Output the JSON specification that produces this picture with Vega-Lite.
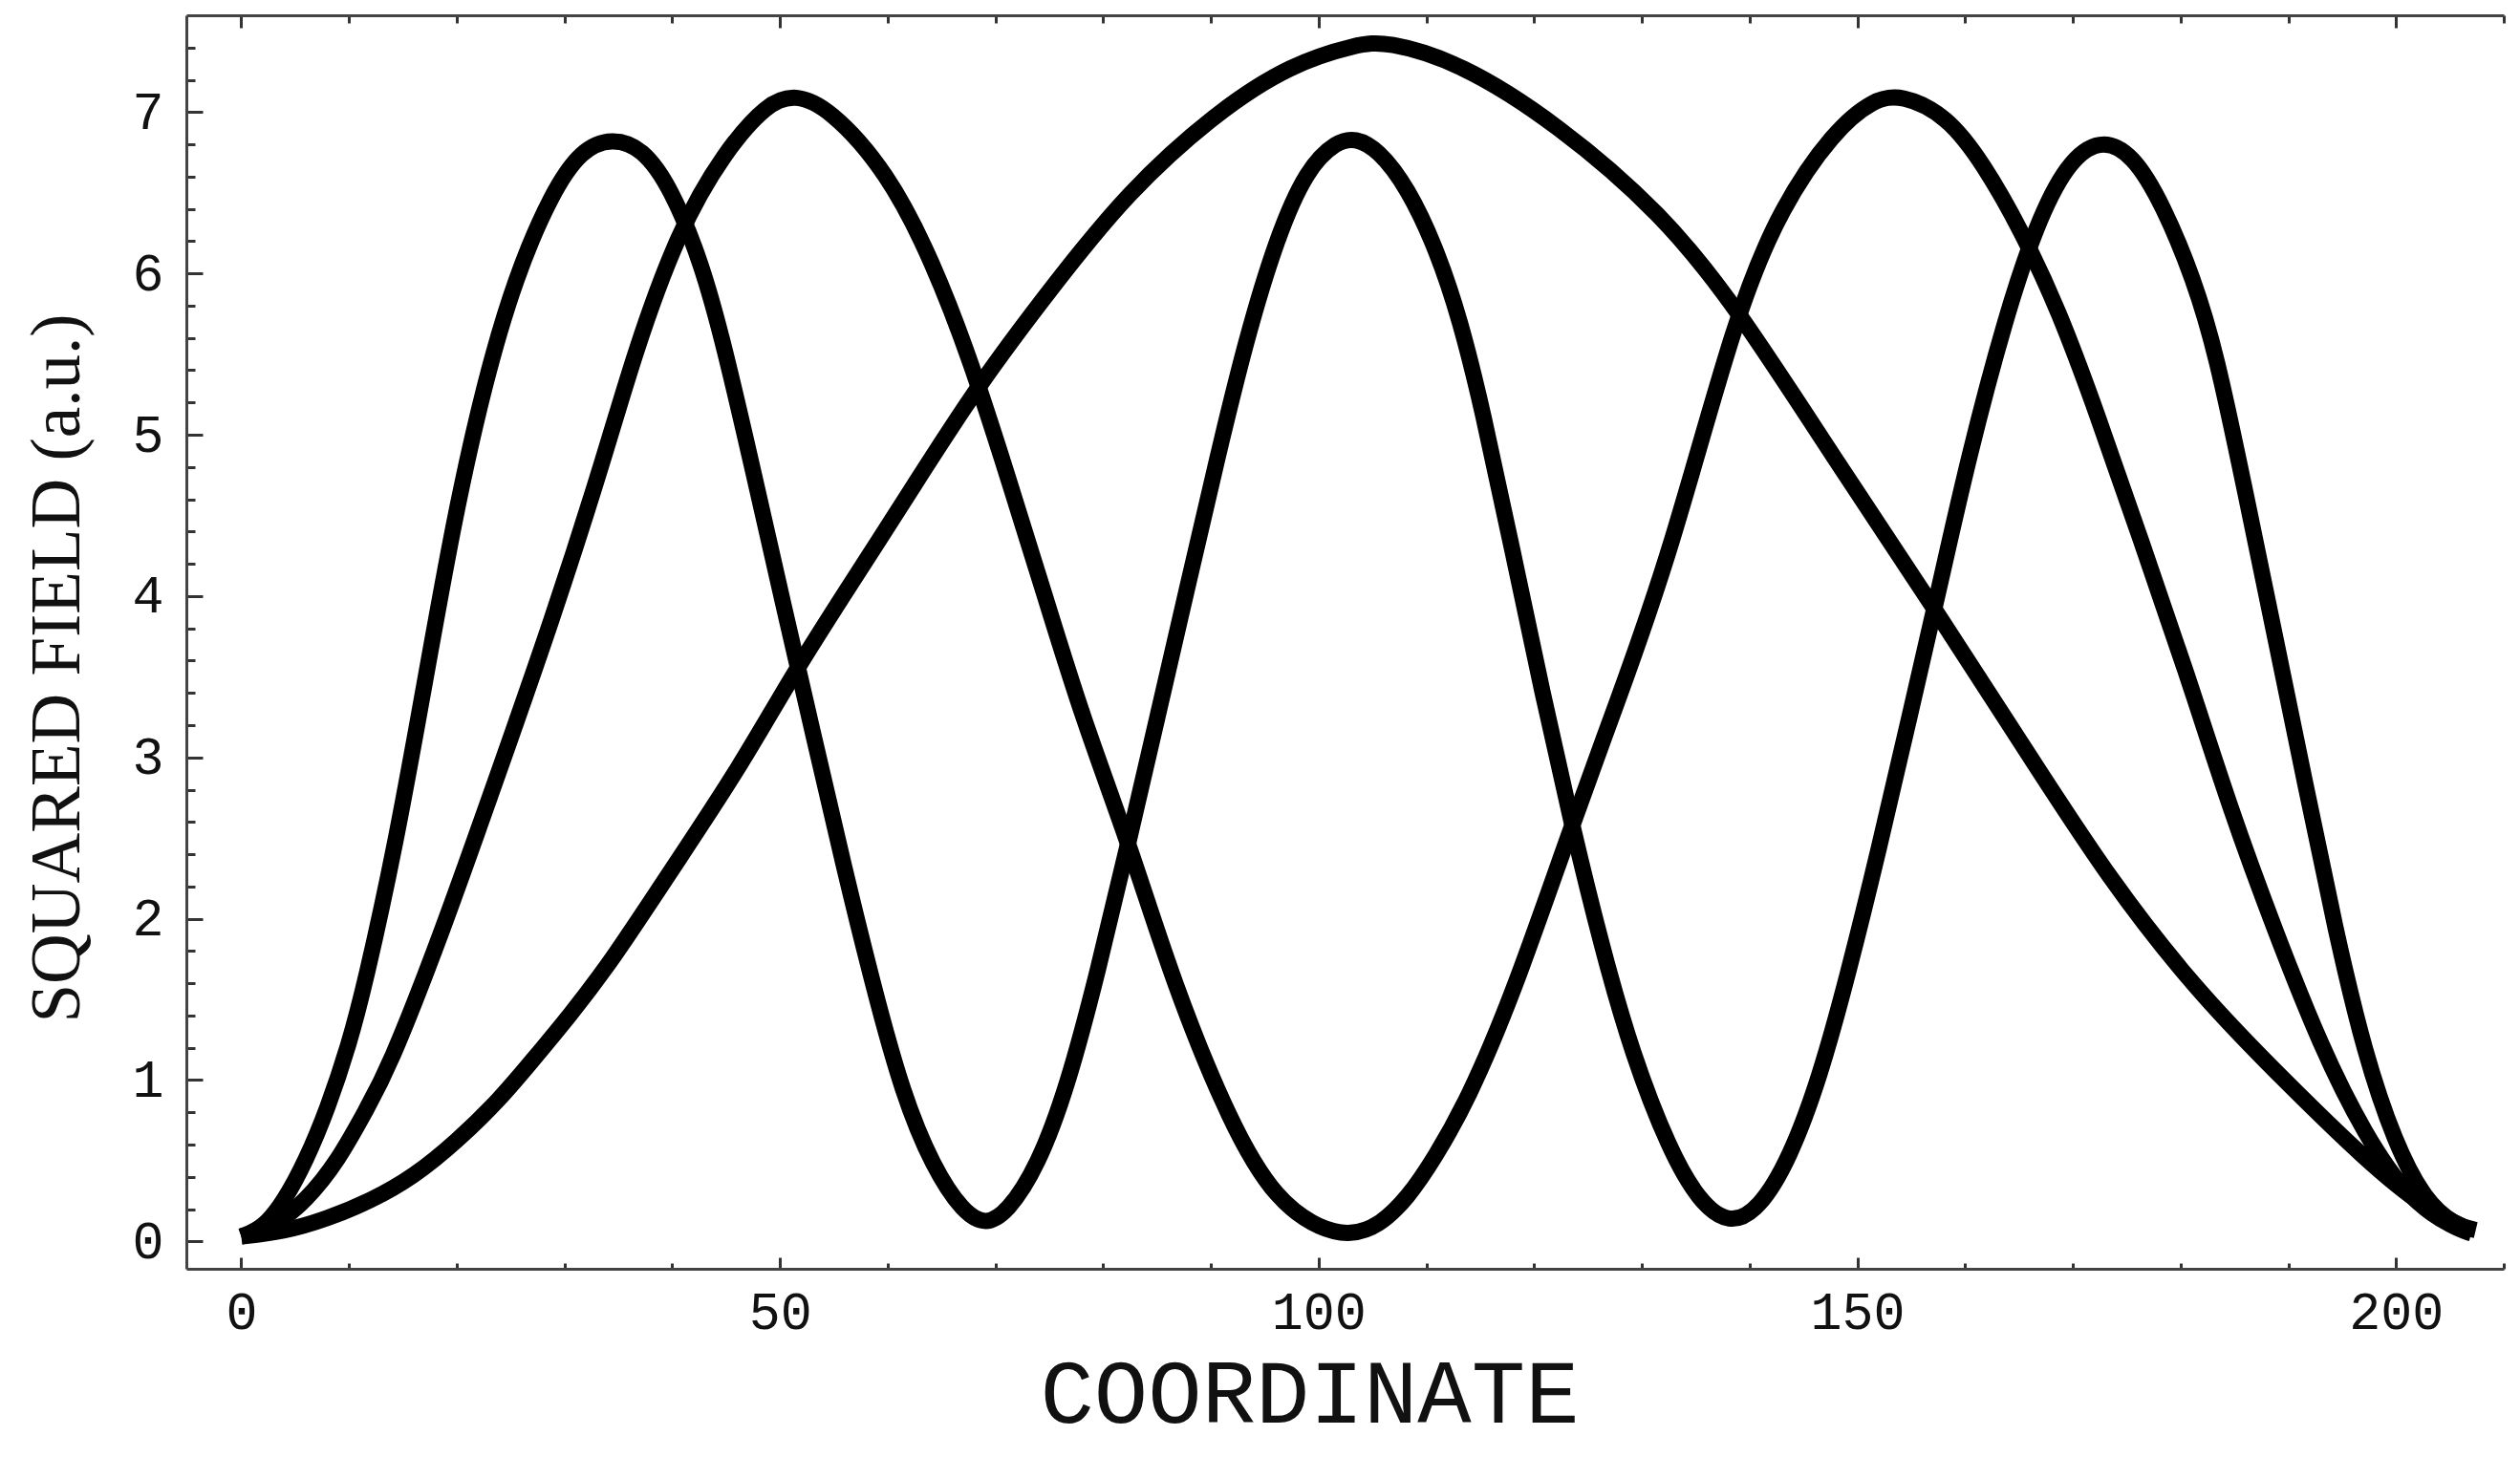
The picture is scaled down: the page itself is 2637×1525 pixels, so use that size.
{
  "$schema": "https://vega.github.io/schema/vega-lite/v6.json",
  "width": 2425,
  "height": 1312,
  "autosize": {"type": "none"},
  "padding": {"left": 195, "top": 16, "right": 17, "bottom": 197},
  "background": "white",
  "config": {"view": {"stroke": null}},
  "data": {"values": [
    {"s":"A","x":0,"y":0.03},{"s":"A","x":4,"y":0.06},{"s":"A","x":8,"y":0.14},{"s":"A","x":12,"y":0.25},{"s":"A","x":16,"y":0.4},{"s":"A","x":20,"y":0.62},{"s":"A","x":24,"y":0.88},{"s":"A","x":27,"y":1.12},{"s":"A","x":30.5,"y":1.4},{"s":"A","x":34.4,"y":1.74},{"s":"A","x":39.9,"y":2.3},{"s":"A","x":46.2,"y":2.93},{"s":"A","x":51.4,"y":3.54},{"s":"A","x":57.3,"y":4.15},{"s":"A","x":62.1,"y":4.65},{"s":"A","x":68.4,"y":5.31},{"s":"A","x":75.3,"y":5.92},{"s":"A","x":82.2,"y":6.5},{"s":"A","x":90.5,"y":7.0},{"s":"A","x":97.5,"y":7.3},{"s":"A","x":103.6,"y":7.42},{"s":"A","x":106.2,"y":7.44},{"s":"A","x":113.1,"y":7.31},{"s":"A","x":122.1,"y":6.93},{"s":"A","x":131.9,"y":6.37},{"s":"A","x":138.8,"y":5.79},{"s":"A","x":147.8,"y":4.86},{"s":"A","x":156.9,"y":3.95},{"s":"A","x":165.2,"y":3.09},{"s":"A","x":173.5,"y":2.23},{"s":"A","x":181.9,"y":1.52},{"s":"A","x":190.2,"y":0.96},{"s":"A","x":197.1,"y":0.51},{"s":"A","x":202.7,"y":0.2},{"s":"A","x":206.9,"y":0.07},
    {"s":"B","x":0,"y":0.03},{"s":"B","x":3,"y":0.09},{"s":"B","x":6,"y":0.25},{"s":"B","x":9,"y":0.5},{"s":"B","x":11.7,"y":0.83},{"s":"B","x":13.6,"y":1.06},{"s":"B","x":18.4,"y":1.87},{"s":"B","x":24,"y":2.93},{"s":"B","x":28.8,"y":3.84},{"s":"B","x":33.7,"y":4.86},{"s":"B","x":36.5,"y":5.51},{"s":"B","x":40.6,"y":6.27},{"s":"B","x":44.8,"y":6.75},{"s":"B","x":48.9,"y":7.06},{"s":"B","x":51.4,"y":7.11},{"s":"B","x":54.5,"y":7.03},{"s":"B","x":60,"y":6.63},{"s":"B","x":64.2,"y":6.07},{"s":"B","x":67.7,"y":5.46},{"s":"B","x":71.1,"y":4.75},{"s":"B","x":74.6,"y":4.0},{"s":"B","x":78.1,"y":3.24},{"s":"B","x":82.6,"y":2.43},{"s":"B","x":86.4,"y":1.62},{"s":"B","x":91.9,"y":0.71},{"s":"B","x":96.1,"y":0.25},{"s":"B","x":100.3,"y":0.07},{"s":"B","x":103,"y":0.04},{"s":"B","x":105.5,"y":0.09},{"s":"B","x":108.3,"y":0.27},{"s":"B","x":110.8,"y":0.52},{"s":"B","x":113.8,"y":0.87},{"s":"B","x":118,"y":1.52},{"s":"B","x":123.5,"y":2.58},{"s":"B","x":127.7,"y":3.34},{"s":"B","x":132.6,"y":4.25},{"s":"B","x":138.8,"y":5.77},{"s":"B","x":143,"y":6.42},{"s":"B","x":147.8,"y":6.88},{"s":"B","x":151.5,"y":7.08},{"s":"B","x":154.1,"y":7.11},{"s":"B","x":158.3,"y":6.98},{"s":"B","x":161.7,"y":6.68},{"s":"B","x":165.2,"y":6.27},{"s":"B","x":168.7,"y":5.77},{"s":"B","x":172.1,"y":5.16},{"s":"B","x":176.3,"y":4.35},{"s":"B","x":180.5,"y":3.54},{"s":"B","x":184.6,"y":2.68},{"s":"B","x":188.8,"y":1.92},{"s":"B","x":193,"y":1.21},{"s":"B","x":197.1,"y":0.66},{"s":"B","x":201.3,"y":0.25},{"s":"B","x":205.5,"y":0.08},{"s":"B","x":207,"y":0.05},
    {"s":"C","x":0,"y":0.03},{"s":"C","x":2,"y":0.08},{"s":"C","x":4,"y":0.25},{"s":"C","x":6,"y":0.5},{"s":"C","x":8,"y":0.82},{"s":"C","x":10,"y":1.22},{"s":"C","x":11.5,"y":1.6},{"s":"C","x":14.3,"y":2.45},{"s":"C","x":17,"y":3.45},{"s":"C","x":19.8,"y":4.5},{"s":"C","x":22.6,"y":5.33},{"s":"C","x":25.4,"y":5.97},{"s":"C","x":28.8,"y":6.5},{"s":"C","x":31.6,"y":6.77},{"s":"C","x":34.4,"y":6.84},{"s":"C","x":37.2,"y":6.78},{"s":"C","x":39.9,"y":6.53},{"s":"C","x":42.7,"y":6.07},{"s":"C","x":44.8,"y":5.56},{"s":"C","x":47.6,"y":4.75},{"s":"C","x":50.3,"y":3.95},{"s":"C","x":53.1,"y":3.14},{"s":"C","x":55.9,"y":2.33},{"s":"C","x":58.7,"y":1.57},{"s":"C","x":61.4,"y":0.91},{"s":"C","x":64.2,"y":0.46},{"s":"C","x":67,"y":0.18},{"s":"C","x":69.1,"y":0.1},{"s":"C","x":71.1,"y":0.18},{"s":"C","x":73.9,"y":0.46},{"s":"C","x":76.7,"y":0.96},{"s":"C","x":79.5,"y":1.67},{"s":"C","x":82.2,"y":2.43},{"s":"C","x":85,"y":3.24},{"s":"C","x":87.8,"y":4.05},{"s":"C","x":90.6,"y":4.86},{"s":"C","x":93.3,"y":5.6},{"s":"C","x":96.1,"y":6.22},{"s":"C","x":98.9,"y":6.65},{"s":"C","x":101.7,"y":6.82},{"s":"C","x":103.4,"y":6.84},{"s":"C","x":105.5,"y":6.77},{"s":"C","x":108.3,"y":6.53},{"s":"C","x":111,"y":6.14},{"s":"C","x":113.1,"y":5.72},{"s":"C","x":115.2,"y":5.16},{"s":"C","x":118,"y":4.28},{"s":"C","x":120.8,"y":3.39},{"s":"C","x":123.5,"y":2.58},{"s":"C","x":126.3,"y":1.82},{"s":"C","x":129.1,"y":1.16},{"s":"C","x":132.6,"y":0.56},{"s":"C","x":135.3,"y":0.25},{"s":"C","x":138.1,"y":0.1},{"s":"C","x":140.9,"y":0.2},{"s":"C","x":143.7,"y":0.51},{"s":"C","x":146.5,"y":1.01},{"s":"C","x":149.2,"y":1.67},{"s":"C","x":152,"y":2.43},{"s":"C","x":154.8,"y":3.24},{"s":"C","x":157.6,"y":4.05},{"s":"C","x":160.3,"y":4.86},{"s":"C","x":163.8,"y":5.74},{"s":"C","x":166.6,"y":6.3},{"s":"C","x":169.4,"y":6.68},{"s":"C","x":172.5,"y":6.84},{"s":"C","x":175.6,"y":6.74},{"s":"C","x":178.4,"y":6.42},{"s":"C","x":181.2,"y":5.97},{"s":"C","x":183.3,"y":5.51},{"s":"C","x":186,"y":4.65},{"s":"C","x":188.8,"y":3.74},{"s":"C","x":191.6,"y":2.83},{"s":"C","x":194.4,"y":1.92},{"s":"C","x":197.1,"y":1.16},{"s":"C","x":199.9,"y":0.61},{"s":"C","x":202.7,"y":0.25},{"s":"C","x":205.5,"y":0.1},{"s":"C","x":207.4,"y":0.07}
  ]},
  "resolve": {"axis": {"x": "independent", "y": "independent"}},
  "layer": [
    {
      "mark": {"type": "line", "opacity": 0},
      "encoding": {
        "x": {"field": "x", "type": "quantitative", "scale": {"domain": [-5.1, 210], "nice": false, "zero": false},
          "axis": {"orient": "bottom", "values": [0, 50, 100, 150, 200], "grid": false, "ticks": true, "tickSize": 12, "tickWidth": 3, "tickColor": "#333", "offset": -12, "domain": false, "labels": false, "title": null}},
        "y": {"field": "y", "type": "quantitative", "scale": {"domain": [-0.17, 7.6], "nice": false, "zero": false},
          "axis": {"orient": "left", "values": [0, 1, 2, 3, 4, 5, 6, 7], "grid": false, "ticks": true, "tickSize": 17, "tickWidth": 3, "tickColor": "#333", "offset": -17, "domain": false, "labels": false, "title": null}},
        "detail": {"field": "s"}
      }
    },
    {
      "mark": {"type": "line", "opacity": 0},
      "encoding": {
        "x": {"field": "x", "type": "quantitative",
          "axis": {"orient": "bottom", "values": [0, 10, 20, 30, 40, 50, 60, 70, 80, 90, 100, 110, 120, 130, 140, 150, 160, 170, 180, 190, 200, 210], "grid": false, "tickSize": 6, "tickWidth": 3, "tickColor": "#333", "offset": -6, "domain": false, "labels": false, "title": null}},
        "y": {"field": "y", "type": "quantitative",
          "axis": {"orient": "left", "values": [0, 0.2, 0.4, 0.6, 0.8, 1, 1.2, 1.4, 1.6, 1.8, 2, 2.2, 2.4, 2.6, 2.8, 3, 3.2, 3.4, 3.6, 3.8, 4, 4.2, 4.4, 4.6, 4.8, 5, 5.2, 5.4, 5.6, 5.8, 6, 6.2, 6.4, 6.6, 6.8, 7, 7.2, 7.4], "grid": false, "tickSize": 9, "tickWidth": 3, "tickColor": "#333", "offset": -9, "domain": false, "labels": false, "title": null}},
        "detail": {"field": "s"}
      }
    },
    {
      "mark": {"type": "line", "opacity": 0},
      "encoding": {
        "x": {"field": "x", "type": "quantitative",
          "axis": {"orient": "top", "values": [0, 50, 100, 150, 200], "grid": false, "tickSize": 13, "tickWidth": 3, "tickColor": "#333", "offset": -13, "domain": false, "labels": false, "title": null}},
        "y": {"field": "y", "type": "quantitative", "axis": null},
        "detail": {"field": "s"}
      }
    },
    {
      "mark": {"type": "line", "opacity": 0},
      "encoding": {
        "x": {"field": "x", "type": "quantitative",
          "axis": {"orient": "top", "values": [0, 10, 20, 30, 40, 50, 60, 70, 80, 90, 100, 110, 120, 130, 140, 150, 160, 170, 180, 190, 200, 210], "grid": false, "tickSize": 8, "tickWidth": 3, "tickColor": "#333", "offset": -8, "domain": false, "labels": false, "title": null}},
        "y": {"field": "y", "type": "quantitative", "axis": null},
        "detail": {"field": "s"}
      }
    },
    {
      "mark": {"type": "line", "opacity": 0},
      "encoding": {
        "x": {"field": "x", "type": "quantitative",
          "axis": {"orient": "top", "values": [], "grid": false, "ticks": false, "domain": true, "domainColor": "#444", "domainWidth": 3, "labels": false, "title": null}},
        "y": {"field": "y", "type": "quantitative", "axis": null},
        "detail": {"field": "s"}
      }
    },
    {
      "mark": {"type": "line", "color": "black", "strokeWidth": 17, "strokeCap": "butt", "strokeJoin": "round", "interpolate": "basis"},
      "encoding": {
        "x": {"field": "x", "type": "quantitative",
          "axis": {"orient": "bottom", "values": [0, 50, 100, 150, 200], "grid": false, "ticks": false, "domain": true, "domainColor": "#444", "domainWidth": 3,
            "labelFont": "Liberation Mono", "labelFontSize": 55, "labelColor": "#111", "labelPadding": 19, "labelBaseline": "top",
            "title": "COORDINATE", "titleFont": "Liberation Mono", "titleFontSize": 94, "titleFontWeight": "normal", "titleColor": "#111",
            "titleX": 1175, "titleY": 160, "titleAlign": "center", "titleBaseline": "alphabetic"}},
        "y": {"field": "y", "type": "quantitative",
          "axis": {"orient": "left", "values": [0, 1, 2, 3, 4, 5, 6, 7], "grid": false, "ticks": false, "domain": true, "domainColor": "#444", "domainWidth": 3,
            "labelFont": "Liberation Mono", "labelFontSize": 55, "labelColor": "#111", "labelPadding": 24,
            "title": "SQUARED FIELD (a.u.)", "titleFont": "Liberation Serif", "titleFontSize": 73, "titleFontWeight": "normal", "titleColor": "#111",
            "titleX": -113, "titleY": 683, "titleAngle": -90, "titleAlign": "center", "titleBaseline": "alphabetic"}},
        "detail": {"field": "s"}
      }
    }
  ]
}
